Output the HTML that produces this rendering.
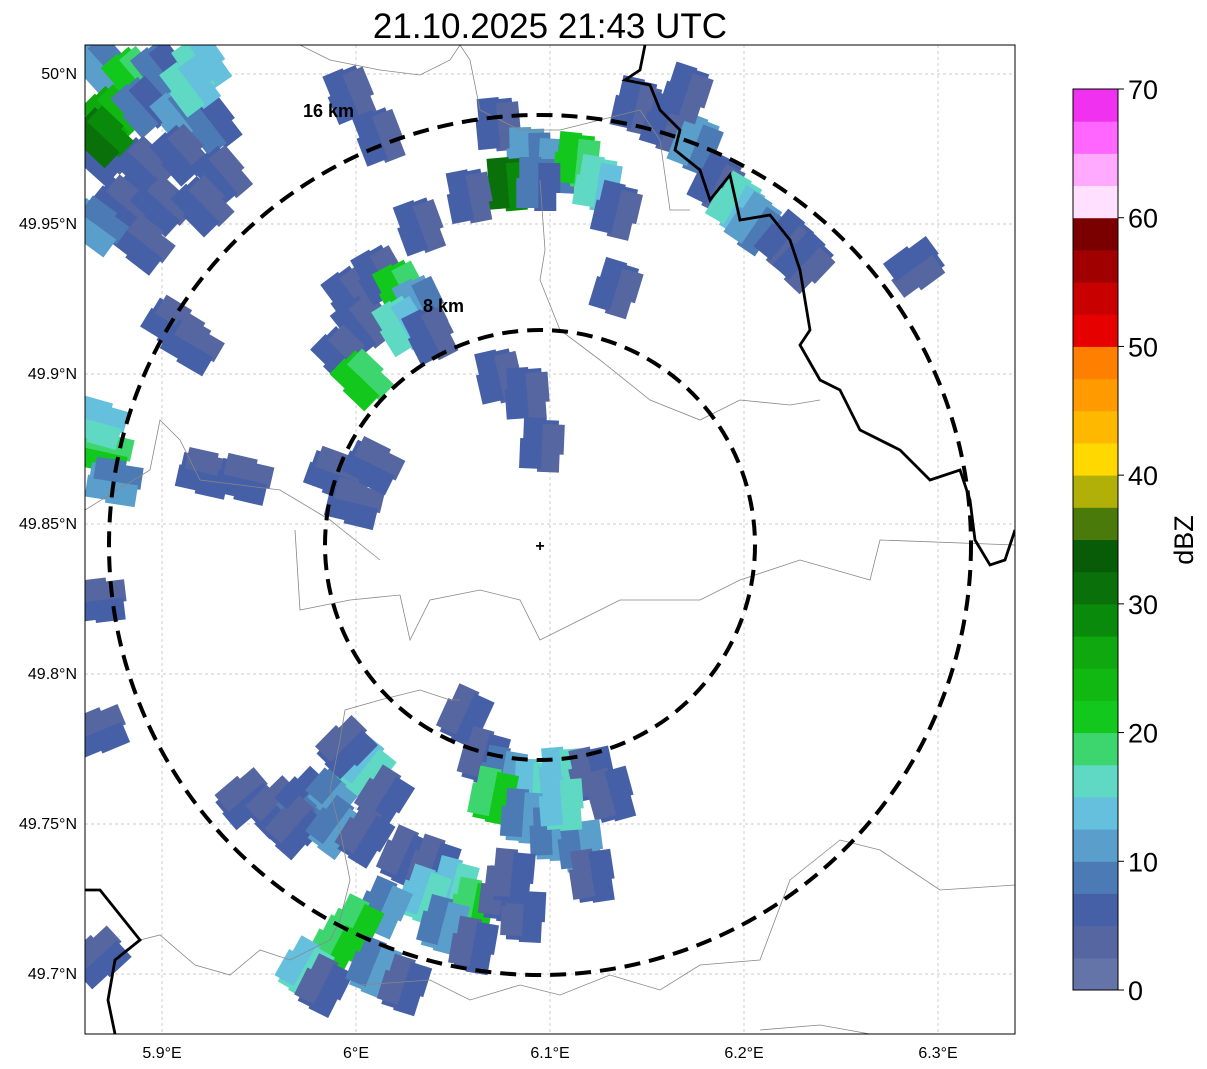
<!DOCTYPE html>
<html><head><meta charset="utf-8"><style>
html,body{margin:0;padding:0;background:#fff;width:1207px;height:1069px;overflow:hidden}
svg text{font-family:"Liberation Sans","DejaVu Sans",sans-serif}
</style></head><body>
<svg id="chart" width="1207" height="1069" xmlns="http://www.w3.org/2000/svg">
<text x="550" y="38" font-size="35" text-anchor="middle">21.10.2025 21:43 UTC</text>
<defs><clipPath id="mapclip"><rect x="85" y="45" width="930" height="989"/></clipPath></defs>
<g id="grid"></g>
<g id="cells" clip-path="url(#mapclip)"></g>
<g clip-path="url(#mapclip)" fill="none">
<polyline stroke="#888" stroke-width="0.8" points="295,530 300,610 350,600 400,595 410,640 430,600 480,590 520,600 540,640 580,620 620,600 700,600 740,580 800,560 870,580 880,540 1015,545"/>
<polyline stroke="#888" stroke-width="0.8" points="85,510 150,470 160,420 180,440 200,480 280,490 330,520 380,560"/>
<polyline stroke="#888" stroke-width="0.8" points="140,940 160,935 195,965 230,975 260,950 290,960 330,940 340,920 350,880 340,830 330,790 340,740 345,710 380,700 420,690 450,700 460,700"/>
<polyline stroke="#888" stroke-width="0.8" points="360,985 430,980 470,1000 520,985 560,995 610,975 660,990 700,965 760,960 790,880 840,840 880,850 940,890 1015,885"/>
<polyline stroke="#888" stroke-width="0.8" points="540,180 545,250 540,280 560,330 600,360 650,400 700,420 740,400 790,405 820,400"/>
<polyline stroke="#888" stroke-width="0.8" points="300,45 330,60 380,70 420,75 450,60 460,45 470,60 480,110 520,130 560,130 600,120 640,110 660,140 670,210 690,210"/>
<polyline stroke="#888" stroke-width="0.8" points="760,1030 820,1025 870,1034"/>
<polyline stroke="#000" stroke-width="2.8" points="645,45 640,70 625,80 650,85 660,110 680,130 675,150 700,170 710,200 730,175 740,220 770,215 790,240 800,270 805,300 810,330 800,345 820,380 840,390 860,430 900,450 930,480 960,470 970,500 975,540 990,565 1005,560 1015,530"/>
<polyline stroke="#000" stroke-width="2.8" points="85,890 100,890 140,940 115,960 108,1000 115,1034"/>
</g>
<g fill="none" stroke="#000" stroke-width="4" stroke-dasharray="16,9">
<ellipse cx="540" cy="545" rx="431" ry="430"/>
<ellipse cx="540" cy="545" rx="215" ry="215"/>
</g>
<text x="303" y="117" font-size="18" font-weight="bold">16 km</text>
<text x="423" y="312" font-size="18" font-weight="bold">8 km</text>
<text x="540" y="551" font-size="16" font-weight="bold" text-anchor="middle">+</text>
<rect x="85" y="45" width="930" height="989" fill="none" stroke="#000" stroke-width="1"/>
<g id="ticks"></g>
<g id="cbar"></g>
<text transform="translate(1193,540) rotate(-90)" font-size="27" text-anchor="middle">dBZ</text>
</svg>
<script>
const lonTicks=[5.9,6.0,6.1,6.2,6.3];
const lonLabels=["5.9°E","6°E","6.1°E","6.2°E","6.3°E"];
const latTicks=[50.0,49.95,49.9,49.85,49.8,49.75,49.7];
const latLabels=["50°N","49.95°N","49.9°N","49.85°N","49.8°N","49.75°N","49.7°N"];
const cbTicks=[0,10,20,30,40,50,60,70];
const cbColors=["#6473a8","#5566a0","#4660a8","#4c7ab4","#5a9ecb","#64c0dc","#5fd8c4","#3dd66e","#12c81c","#12b812","#0fa80f","#0a8a0a","#0a700a","#085c08","#4a7a0a","#b0b008","#ffd800","#ffb800","#ff9a00","#ff7f00","#e60000","#c80000","#a00000","#7a0000","#ffe0ff","#ffaaff","#ff66ff","#f032f0"];
const cellLon=[5.868,5.884,5.899,5.920,5.873,5.889,5.909,5.925,5.868,5.889,5.909,5.930,5.878,5.899,5.920,5.889,5.865,5.868,5.914,
5.868,5.873,5.865,5.865,5.865,5.865,5.904,5.914,5.920,5.940,
5.997,6.012,6.023,6.033,6.002,6.023,6.038,5.992,6.002,6.033,5.997,6.012,6.074,6.089,6.097,5.987,5.997,6.007,
6.074,6.090,6.105,6.115,6.126,6.079,6.095,6.136,6.059,
6.146,6.162,6.177,6.188,6.198,6.208,6.224,6.234,6.172,6.136,6.291,
6.054,6.064,6.074,6.090,6.105,6.121,6.131,6.069,6.085,6.100,6.115,6.121,6.105,
5.940,5.956,5.971,5.987,6.002,5.992,6.012,5.966,5.987,6.002,6.023,6.038,6.048,6.059,6.074,6.085,6.033,6.043,6.012,5.997,5.987,5.971,5.981,6.007,6.023,6.059,6.079];
const cellLat=[50.005,50.001,50.003,50.005,49.988,49.991,49.988,49.985,49.975,49.971,49.975,49.968,49.958,49.958,49.958,49.945,49.951,49.981,49.998,
49.875,49.865,49.885,49.825,49.781,49.705,49.918,49.911,49.868,49.866,
49.928,49.935,49.930,49.925,49.918,49.918,49.915,49.908,49.900,49.951,49.995,49.981,49.901,49.895,49.878,49.868,49.858,49.871,
49.985,49.975,49.971,49.973,49.965,49.965,49.965,49.956,49.961,
49.991,49.985,49.978,49.965,49.958,49.951,49.945,49.938,49.995,49.930,49.936,
49.785,49.771,49.765,49.761,49.765,49.765,49.758,49.758,49.751,49.745,49.741,49.731,49.755,
49.758,49.755,49.758,49.761,49.768,49.775,49.758,49.748,49.748,49.745,49.738,49.735,49.728,49.721,49.725,49.718,49.725,49.715,49.721,49.715,49.708,49.701,49.695,49.701,49.695,49.708,49.731];
const cellDbz=[12,20,8,17,25,8,12,8,5,5,5,5,5,5,5,5,12,30,15,
22,12,15,5,5,5,5,5,5,5,
5,5,20,10,5,15,5,5,22,5,5,5,5,5,5,5,5,5,
5,12,12,22,15,30,8,5,5,
5,5,12,5,15,10,5,5,5,5,5,
5,5,12,17,15,5,5,20,12,12,10,5,15,
5,5,8,12,15,5,5,5,10,5,5,5,15,20,5,5,17,12,10,22,20,15,5,10,5,5,5];
const NS="http://www.w3.org/2000/svg";
const X0=85,X1=1015,Y0=45,Y1=1034;
function xOf(lon){return 162+(lon-5.9)*1940;}
function yOf(lat){return 74+(50-lat)*3000;}
const CX=xOf(6.0948),CY=yOf(49.8428);
function cbY(v){return 990-v*(901/70);}
function colorOf(d){return cbColors[Math.max(0,Math.min(cbColors.length-1,Math.floor(d/2.5)))];}
const grid=document.getElementById('grid'),ticks=document.getElementById('ticks');
lonTicks.forEach((t,i)=>{const x=xOf(t);
 const l=document.createElementNS(NS,'line');l.setAttribute('x1',x);l.setAttribute('x2',x);l.setAttribute('y1',Y0);l.setAttribute('y2',Y1);l.setAttribute('stroke','#bbb');l.setAttribute('stroke-width','0.7');l.setAttribute('stroke-dasharray','3,3');
 
 
 grid.appendChild(l);
 const tx=document.createElementNS(NS,'text');tx.setAttribute('x',x);tx.setAttribute('y',1058);tx.setAttribute('font-size','16');tx.setAttribute('text-anchor','middle');tx.textContent=lonLabels[i];
 
 
 ticks.appendChild(tx);});
latTicks.forEach((t,i)=>{const y=yOf(t);
 const l=document.createElementNS(NS,'line');l.setAttribute('x1',X0);l.setAttribute('x2',X1);l.setAttribute('y1',y);l.setAttribute('y2',y);l.setAttribute('stroke','#bbb');l.setAttribute('stroke-width','0.7');l.setAttribute('stroke-dasharray','3,3');
 
 
 grid.appendChild(l);
 const tx=document.createElementNS(NS,'text');tx.setAttribute('x',77);tx.setAttribute('y',y+5);tx.setAttribute('font-size','16');tx.setAttribute('text-anchor','end');tx.textContent=latLabels[i];
 
 
 ticks.appendChild(tx);});
const cells=document.getElementById('cells');
const offs=[[0,0,0],[-12,8,-2.5],[12,-7,0],[6,12,-2.5],[-9,-10,0]];
cellLon.forEach((lon,i)=>{const x=xOf(lon),y=yOf(cellLat[i]);
 const ang=Math.atan2(y-CY,x-CX)*180/Math.PI;
 offs.forEach((o,k)=>{
  const r=document.createElementNS(NS,'rect');
  const d=Math.max(0,cellDbz[i]+o[2]);
  r.setAttribute('x',-20);r.setAttribute('y',-14);r.setAttribute('width',k==0?40:30);r.setAttribute('height',k==0?28:22);
  r.setAttribute('fill',colorOf(d));
  r.setAttribute('transform',`translate(${x},${y}) rotate(${ang}) translate(${o[0]},${o[1]})`);
  
  
  cells.appendChild(r);});
});
const cb=document.getElementById('cbar');
cbColors.forEach((c,i)=>{const r=document.createElementNS(NS,'rect');
 const ya=cbY((i+1)*2.5),yb=cbY(i*2.5);
 r.setAttribute('x',1073);r.setAttribute('y',ya);r.setAttribute('width',45);r.setAttribute('height',yb-ya+0.5);r.setAttribute('fill',c);
 
 
 cb.appendChild(r);});
const fr=document.createElementNS(NS,'rect');fr.setAttribute('x',1073);fr.setAttribute('y',cbY(70));fr.setAttribute('width',45);fr.setAttribute('height',cbY(0)-cbY(70));fr.setAttribute('fill','none');fr.setAttribute('stroke','#000');


cb.appendChild(fr);
cbTicks.forEach(v=>{const y=cbY(v);
 const l=document.createElementNS(NS,'line');l.setAttribute('x1',1118);l.setAttribute('x2',1124);l.setAttribute('y1',y);l.setAttribute('y2',y);l.setAttribute('stroke','#000');
 
 
 cb.appendChild(l);
 const t=document.createElementNS(NS,'text');t.setAttribute('x',1128);t.setAttribute('y',y+10);t.setAttribute('font-size','27');t.textContent=v;
 
 
 cb.appendChild(t);});
</script>
</body></html>
